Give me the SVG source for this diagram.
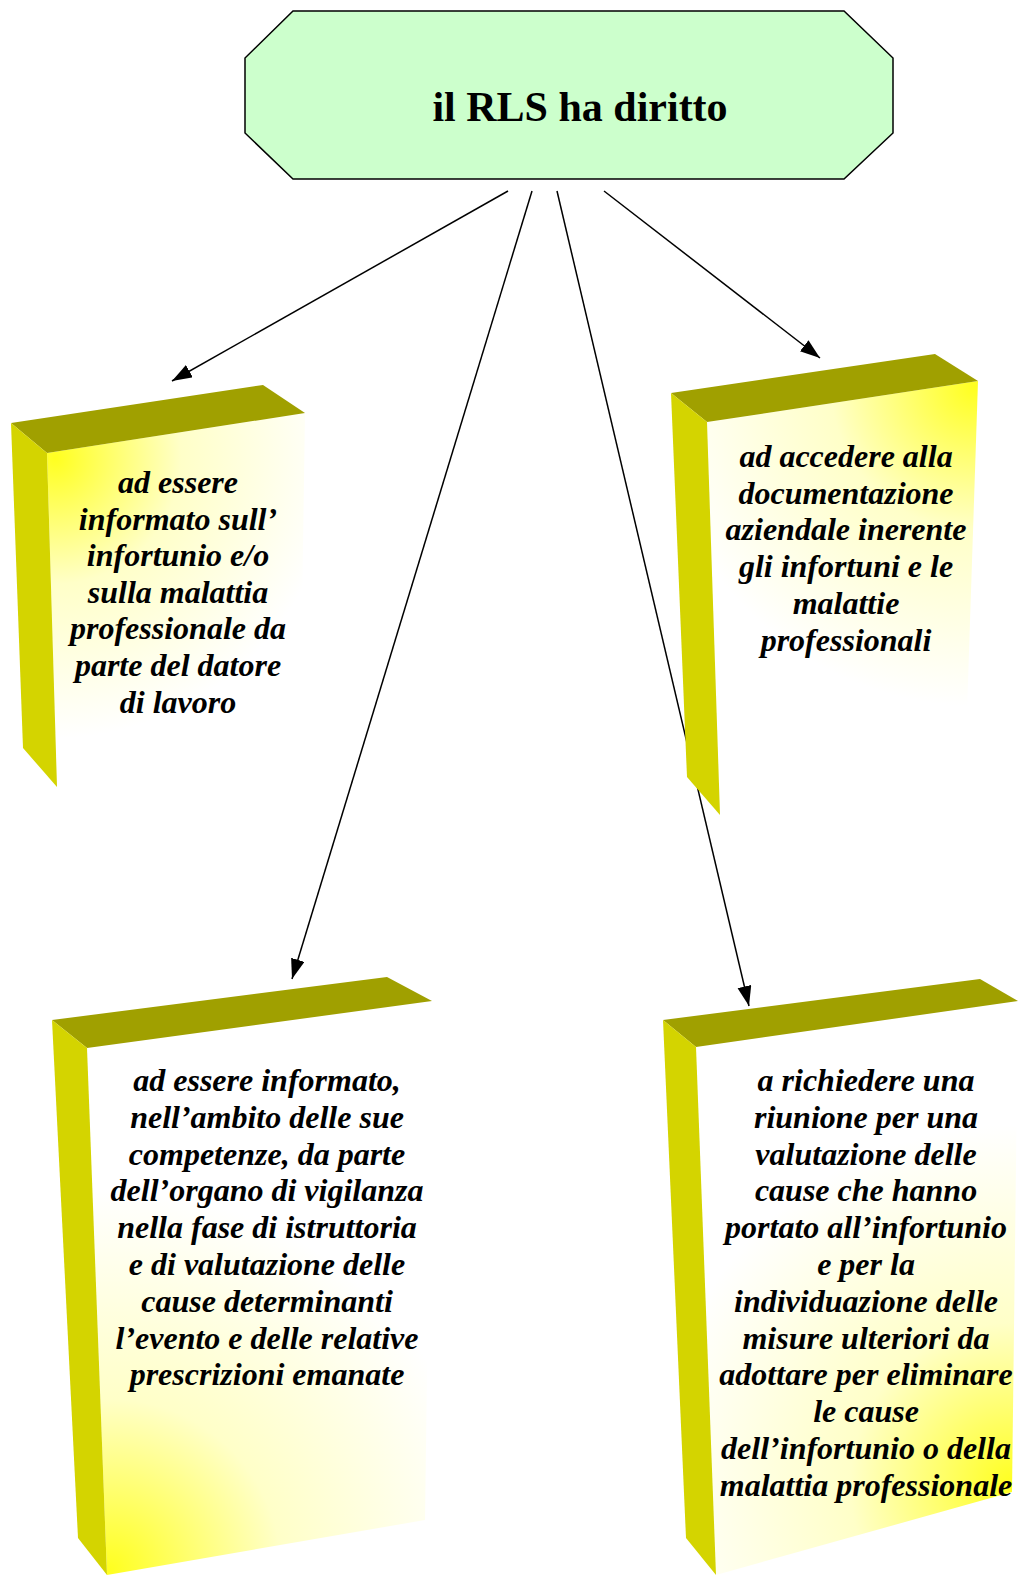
<svg xmlns="http://www.w3.org/2000/svg" width="1018" height="1575" viewBox="0 0 1018 1575">
<style>
.top{fill:#a0a000}
.side{fill:#d4d400}
.t{font-family:"Liberation Serif","Times New Roman",serif;font-weight:bold;font-style:italic;font-size:32px;fill:#000;text-anchor:middle}
.title{font-family:"Liberation Serif","Times New Roman",serif;font-weight:bold;font-size:42px;fill:#000;text-anchor:middle}
.conn{stroke:#000;stroke-width:1.5;fill:none;marker-end:url(#ah)}
</style>
<defs>
<marker id="ah" markerUnits="userSpaceOnUse" markerWidth="22" markerHeight="16" refX="20" refY="7" orient="auto">
<path d="M0,0 L20,7 L0,14 z" fill="#000"/>
</marker>
<radialGradient id="g1" gradientUnits="userSpaceOnUse" cx="55" cy="458" r="280">
<stop offset="0" stop-color="#ffff20"/><stop offset="0.45" stop-color="#ffffc8"/><stop offset="1" stop-color="#ffffff"/>
</radialGradient>
<radialGradient id="g2" gradientUnits="userSpaceOnUse" cx="975" cy="386" r="320">
<stop offset="0" stop-color="#ffff20"/><stop offset="0.45" stop-color="#ffffc8"/><stop offset="1" stop-color="#ffffff"/>
</radialGradient>
<radialGradient id="g3" gradientUnits="userSpaceOnUse" cx="110" cy="1570" r="380">
<stop offset="0" stop-color="#ffff20"/><stop offset="0.45" stop-color="#ffffc8"/><stop offset="1" stop-color="#ffffff"/>
</radialGradient>
<radialGradient id="g4" gradientUnits="userSpaceOnUse" cx="1012" cy="1485" r="360">
<stop offset="0" stop-color="#ffff20"/><stop offset="0.45" stop-color="#ffffc8"/><stop offset="1" stop-color="#ffffff"/>
</radialGradient>
</defs>

<g id="connectors">
<line class="conn" x1="508" y1="191" x2="172" y2="381"/>
<line class="conn" x1="532" y1="191" x2="292" y2="979"/>
<line class="conn" x1="557" y1="191" x2="749" y2="1006"/>
<line class="conn" x1="604" y1="191" x2="820" y2="358"/>
</g>

<g id="root">
<polygon points="293,11 844,11 893,58 893,133 844,179 293,179 245,133 245,58" fill="#ccffcc" stroke="#000" stroke-width="1.5"/>
<text class="title" x="580" y="121">il RLS ha diritto</text>
</g>

<g id="box1">
<polygon points="47,453 305,413 300,748 57,787" fill="url(#g1)"/>
<polygon class="top" points="11,423 263,385 305,413 47,453"/>
<polygon class="side" points="11,423 47,453 57,787 23,748"/>
<text class="t" x="178" y="493">ad essere<tspan x="178" dy="36.6">informato sull’</tspan><tspan x="178" dy="36.6">infortunio e/o</tspan><tspan x="178" dy="36.6">sulla malattia</tspan><tspan x="178" dy="36.6">professionale da</tspan><tspan x="178" dy="36.6">parte del datore</tspan><tspan x="178" dy="36.6">di lavoro</tspan></text>
</g>

<g id="box2">
<polygon points="707,422 978,381 965,772 720,815" fill="url(#g2)"/>
<polygon class="top" points="671,393 935,354 978,381 707,422"/>
<polygon class="side" points="671,393 707,422 720,815 687,777"/>
<text class="t" x="846" y="467">ad accedere alla<tspan x="846" dy="36.7">documentazione</tspan><tspan x="846" dy="36.7">aziendale inerente</tspan><tspan x="846" dy="36.7">gli infortuni e le</tspan><tspan x="846" dy="36.7">malattie</tspan><tspan x="846" dy="36.7">professionali</tspan></text>
</g>

<g id="box3">
<polygon points="87,1048 432,1001 425,1520 107,1575" fill="url(#g3)"/>
<polygon class="top" points="52,1020 387,977 432,1001 87,1048"/>
<polygon class="side" points="52,1020 87,1048 107,1575 78,1538"/>
<text class="t" x="267" y="1091">ad essere informato,<tspan x="267" dy="36.8">nell’ambito delle sue</tspan><tspan x="267" dy="36.8">competenze, da parte</tspan><tspan x="267" dy="36.8">dell’organo di vigilanza</tspan><tspan x="267" dy="36.8">nella fase di istruttoria</tspan><tspan x="267" dy="36.8">e di valutazione delle</tspan><tspan x="267" dy="36.8">cause determinanti</tspan><tspan x="267" dy="36.8">l’evento e delle relative</tspan><tspan x="267" dy="36.8">prescrizioni emanate</tspan></text>
</g>

<g id="box4">
<polygon points="696,1047 1018,1001 1012,1492 716,1575" fill="url(#g4)"/>
<polygon class="top" points="663,1020 980,979 1018,1001 696,1047"/>
<polygon class="side" points="663,1020 696,1047 716,1575 686,1538"/>
<text class="t" x="866" y="1091">a richiedere una<tspan x="866" dy="36.8">riunione per una</tspan><tspan x="866" dy="36.8">valutazione delle</tspan><tspan x="866" dy="36.8">cause che hanno</tspan><tspan x="866" dy="36.8">portato all’infortunio</tspan><tspan x="866" dy="36.8">e per la</tspan><tspan x="866" dy="36.8">individuazione delle</tspan><tspan x="866" dy="36.8">misure ulteriori da</tspan><tspan x="866" dy="36.8">adottare per eliminare</tspan><tspan x="866" dy="36.8">le cause</tspan><tspan x="866" dy="36.8">dell’infortunio o della</tspan><tspan x="866" dy="36.8">malattia professionale</tspan></text>
</g>
</svg>
